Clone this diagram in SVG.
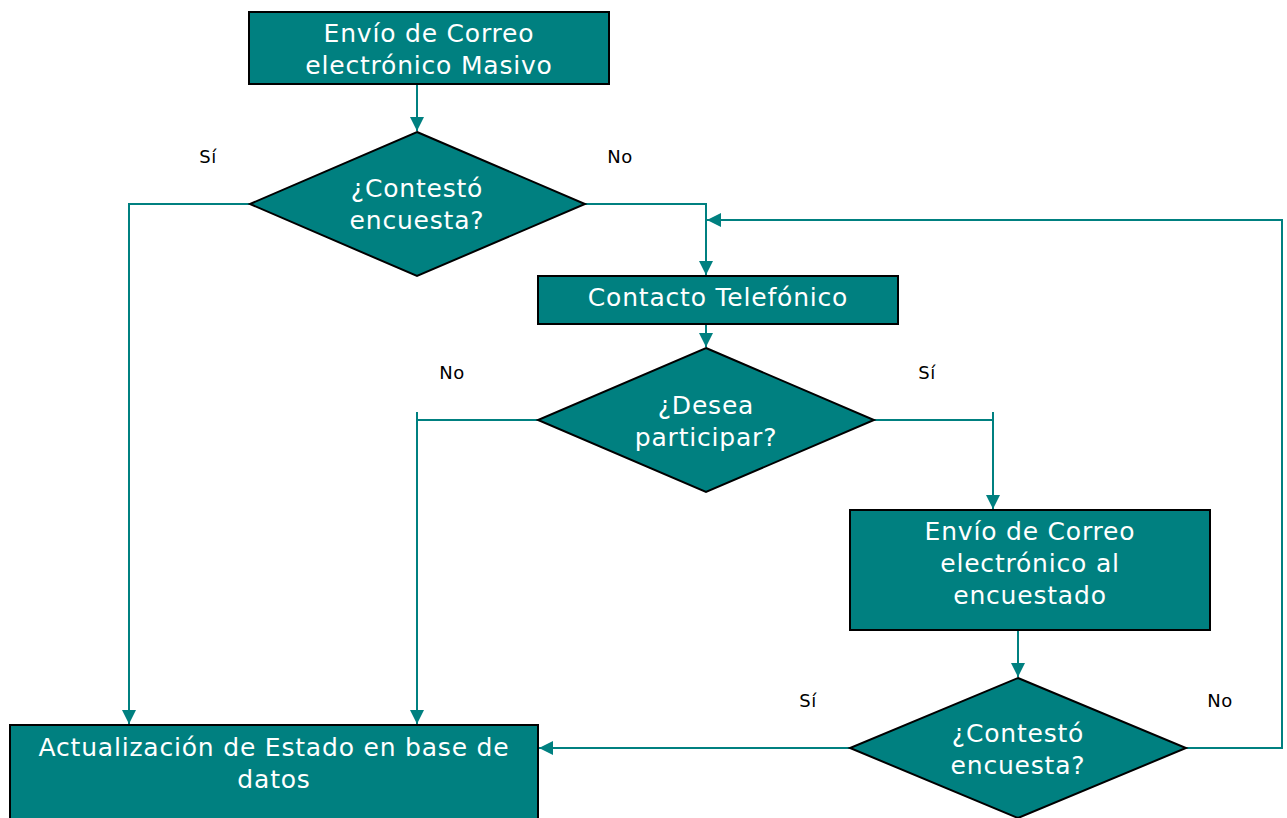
<svg xmlns="http://www.w3.org/2000/svg" width="1287" height="818" viewBox="0 0 1287 818">
<style>
.node{fill:#008080;stroke:#000;stroke-width:2}
.t{fill:#fff;font-family:"DejaVu Sans",Verdana,sans-serif;font-size:25px;letter-spacing:0.8px;text-anchor:middle}
.lbl{fill:#000;font-family:"DejaVu Sans",Verdana,sans-serif;font-size:18px;letter-spacing:0.6px;text-anchor:middle}
.c{fill:none;stroke:#008080;stroke-width:2}
</style>
<defs>
<marker id="ah" viewBox="0 0 14 14" refX="14" refY="7" markerWidth="14" markerHeight="14" markerUnits="userSpaceOnUse" orient="auto">
<path d="M0,0 L14,7 L0,14 Z" fill="#008080"/>
</marker>
</defs>
<rect width="1287" height="818" fill="#fff"/>
<g id="connectors">
<path class="c" d="M417,85 V131" marker-end="url(#ah)"/>
<path class="c" d="M250,204 H129 V724" marker-end="url(#ah)"/>
<path class="c" d="M585,204 H706 V275" marker-end="url(#ah)"/>
<path class="c" d="M1186,748 H1282 V220 H707" marker-end="url(#ah)"/>
<path class="c" d="M706,325 V347" marker-end="url(#ah)"/>
<path class="c" d="M417,412 V420 H538"/>
<path class="c" d="M417,420 V724" marker-end="url(#ah)"/>
<path class="c" d="M993,412 V420 H874"/>
<path class="c" d="M993,420 V509" marker-end="url(#ah)"/>
<path class="c" d="M1018,631 V677" marker-end="url(#ah)"/>
<path class="c" d="M850,748 H539" marker-end="url(#ah)"/>
</g>
<g id="n1"><rect class="node" x="249" y="12" width="360" height="72"/>
<text class="t" x="429" y="42">Envío de Correo</text><text class="t" x="429" y="74">electrónico Masivo</text></g>
<g id="d1"><polygon class="node" points="417,132 585,204 417,276 250,204"/>
<text class="t" x="417" y="197">¿Contestó</text><text class="t" x="417" y="229">encuesta?</text></g>
<g id="n2"><rect class="node" x="538" y="276" width="360" height="48"/>
<text class="t" x="718" y="306">Contacto Telefónico</text></g>
<g id="d2"><polygon class="node" points="706,348 874,420 706,492 538,420"/>
<text class="t" x="706" y="414">¿Desea</text><text class="t" x="706" y="446">participar?</text></g>
<g id="n3"><rect class="node" x="850" y="510" width="360" height="120"/>
<text class="t" x="1030" y="540">Envío de Correo</text><text class="t" x="1030" y="572">electrónico al</text><text class="t" x="1030" y="604">encuestado</text></g>
<g id="d3"><polygon class="node" points="1018,678 1186,748 1018,818 850,748"/>
<text class="t" x="1018" y="742">¿Contestó</text><text class="t" x="1018" y="774">encuesta?</text></g>
<g id="n4"><rect class="node" x="10" y="725" width="528" height="100"/>
<text class="t" x="274" y="756">Actualización de Estado en base de</text><text class="t" x="274" y="788">datos</text></g>
<g id="labels">
<text class="lbl" x="208" y="163">Sí</text>
<text class="lbl" x="620" y="163">No</text>
<text class="lbl" x="452" y="379">No</text>
<text class="lbl" x="927" y="379">Sí</text>
<text class="lbl" x="808" y="707">Sí</text>
<text class="lbl" x="1220" y="707">No</text>
</g>
</svg>
